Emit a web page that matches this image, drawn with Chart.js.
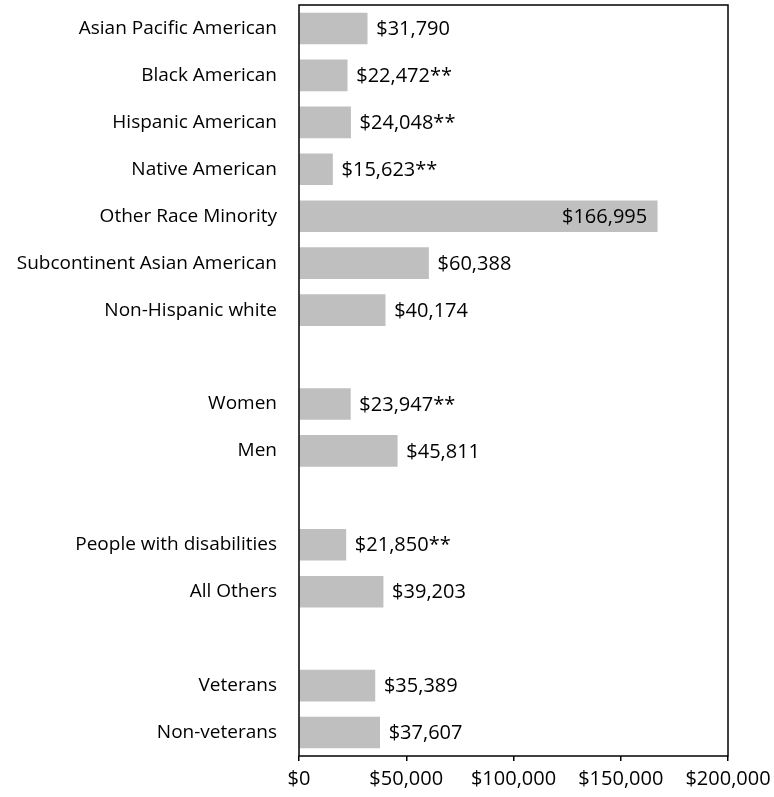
<!DOCTYPE html>
<html>
<head>
<meta charset="utf-8">
<script src="https://cdn.jsdelivr.net/npm/chart.js@4"></script>
<style>
  html, body { margin: 0; padding: 0; background: #fff; }
  canvas { display: block; }
</style>
</head>
<body>
<canvas id="myChart" width="774" height="797"></canvas>
<script>
// Median values by group; empty rows separate the groups
const categories = [
    'Asian Pacific American', 'Black American', 'Hispanic American', 'Native American',
    'Other Race Minority', 'Subcontinent Asian American', 'Non-Hispanic white',
    '',
    'Women', 'Men',
    '',
    'People with disabilities', 'All Others',
    '',
    'Veterans', 'Non-veterans'
];
const values = [
    31790, 22472, 24048, 15623, 166995, 60388, 40174,
    null,
    23947, 45811,
    null,
    21850, 39203,
    null,
    35389, 37607
];
// '**' marks the values flagged in the source table
const flags = [
    '', '**', '**', '**', '', '', '',
    '',
    '**', '',
    '',
    '**', '',
    '',
    '', ''
];
const xTicks = [0, 50000, 100000, 150000, 200000];

const FONT = '"Open Sans", sans-serif';
const money = v => '$' + v.toLocaleString('en-US');

// value labels: outside the bar end, or inside when there is no room
const valueLabels = {
    id: 'valueLabels',
    afterDatasetsDraw(chart) {
        const { ctx, chartArea } = chart;
        const meta = chart.getDatasetMeta(0);
        ctx.save();
        ctx.font = '20px ' + FONT;
        ctx.fillStyle = '#000';
        ctx.textBaseline = 'middle';
        meta.data.forEach((bar, i) => {
            if (values[i] === null) return;
            const text = money(values[i]) + flags[i];
            const w = ctx.measureText(text).width;
            if (bar.x + 10 + w > chartArea.right - 4) {
                ctx.textAlign = 'right';
                ctx.fillText(text, bar.x - 10, bar.y + 1);
            } else {
                ctx.textAlign = 'left';
                ctx.fillText(text, bar.x + 9, bar.y + 1);
            }
        });
        ctx.restore();
    }
};

// box round the plot area
const plotBorder = {
    id: 'plotBorder',
    afterDraw(chart) {
        const { ctx, chartArea: a } = chart;
        ctx.save();
        ctx.strokeStyle = '#000';
        ctx.lineWidth = 1.5;
        ctx.strokeRect(a.left, a.top, a.right - a.left, a.bottom - a.top);
        ctx.restore();
    }
};

const ctx = document.getElementById('myChart');

const myChart = new Chart(ctx, {
    type: 'bar',
    data: {
        labels: categories,
        datasets: [{
            data: values,
            backgroundColor: '#bfbfbf',
            borderWidth: 0,
            barThickness: 31
        }]
    },
    options: {
        indexAxis: 'y',
        responsive: false,
        animation: false,
        layout: { padding: { top: 5, right: 46, bottom: 0, left: 0 } },
        plugins: {
            legend: { display: false },
            tooltip: { enabled: false }
        },
        scales: {
            x: {
                min: 0,
                max: 200000,
                afterBuildTicks: axis => { axis.ticks = xTicks.map(v => ({ value: v })); },
                afterFit: axis => {
                    axis.height = 41;
                    axis.paddingLeft = 0;
                    axis.paddingRight = 0;
                },
                grid: {
                    drawOnChartArea: false,
                    color: '#000',
                    lineWidth: 1.5,
                    tickLength: 5
                },
                border: { display: false },
                ticks: {
                    padding: 6,
                    color: '#000',
                    font: { family: FONT, size: 20 },
                    maxRotation: 0,
                    callback: v => money(v)
                }
            },
            y: {
                afterFit: axis => {
                    axis.width = 299;
                    axis.paddingTop = 0;
                    axis.paddingBottom = 0;
                },
                grid: { display: false, drawTicks: false },
                border: { display: false },
                ticks: {
                    padding: 22,
                    color: '#000',
                    autoSkip: false,
                    font: { family: FONT, size: 19 }
                }
            }
        }
    },
    plugins: [valueLabels, plotBorder]
});
</script>
</body>
</html>
